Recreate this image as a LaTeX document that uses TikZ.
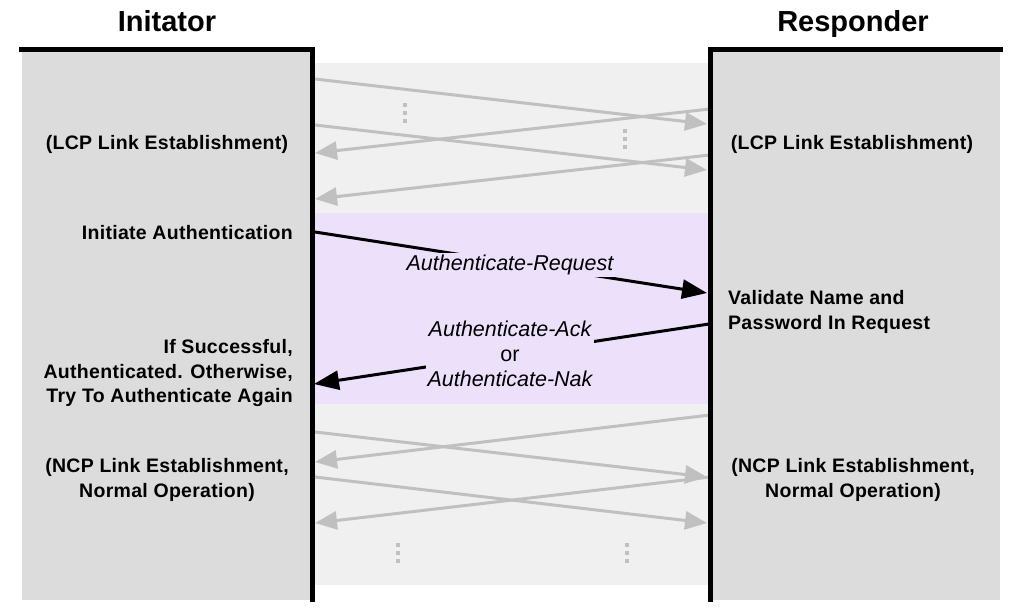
\documentclass[tikz,border=0pt]{standalone}
\usepackage{fontspec}
\setmainfont{Liberation Sans}
\newfontfamily\notefont[LetterSpace=1.5]{Liberation Sans}
\usetikzlibrary{arrows.meta}
\definecolor{boxgray}{RGB}{220,220,220}
\definecolor{midgray}{RGB}{240,240,240}
\definecolor{authpurple}{RGB}{236,224,251}
\definecolor{msggray}{RGB}{192,192,192}

\begin{document}
\begin{tikzpicture}[x = 1pt, y = -1pt,
    title/.style = {font = \fontsize{29}{34}\selectfont\bfseries, inner sep = 0pt},
    note/.style = {font = \notefont\fontsize{19.5}{24.5}\selectfont\bfseries, inner sep = 0pt},
    msg/.style = {font = \fontsize{21.5}{25}\selectfont\itshape,
        fill = authpurple, inner sep = 2pt, align = center},
    grey msg/.style = {draw = msggray, line width = 3pt,
        -{Triangle[length = 22pt, width = 18pt]}},
    auth msg/.style = {draw = black, line width = 3pt,
        -{Triangle[length = 25pt, width = 19pt]}},
    lifeline/.style = {line width = 5pt},
    dots/.style = {draw = msggray, line width = 4pt, dash pattern = on 4pt off 4pt}
    ]
    \fill[white] (0,0) rectangle (1020,613);
    \useasboundingbox (0,0) rectangle (1020,613);
    \fill[boxgray] (22,49) rectangle (312,600);
    \fill[boxgray] (710,49) rectangle (1000,600);
    \fill[midgray] (312,63) rectangle (710,585);
    \fill[authpurple] (312,213) rectangle (710,404);

    \coordinate (i1) at (315,79);   \coordinate (r1) at (707,124);
    \coordinate (r2) at (710,109);  \coordinate (i2) at (315,153);
    \coordinate (i3) at (315,125);  \coordinate (r3) at (707,170);
    \coordinate (r4) at (710,155);  \coordinate (i4) at (315,199);
    \coordinate (r5) at (710,415);  \coordinate (i5) at (315,462);
    \coordinate (i6) at (315,432);  \coordinate (r6) at (707,477);
    \coordinate (i7) at (315,477);  \coordinate (r7) at (707,523);
    \coordinate (r8) at (710,477);  \coordinate (i8) at (315,523);
    \coordinate (ia) at (315,232);  \coordinate (ra) at (707,293);
    \coordinate (rb) at (709,324);  \coordinate (ib) at (314,384);

    \foreach \from/\to in {i1/r1, r2/i2, i3/r3, r4/i4, r5/i5, i6/r6, i7/r7, r8/i8}
        \draw[grey msg] (\from) -- (\to);
    \foreach \x/\y in {405/103, 625/129, 398/543, 627/543}
        \draw[dots] (\x,\y) -- ++(0,20);

    \draw[auth msg] (ia) -- (ra);
    \draw[auth msg] (rb) -- (ib);
    \node[msg] (request) at (510,265) {Authenticate-Request};
    \node[msg] (reply) at (510,354) {Authenticate-Ack\\\textup{or}\\Authenticate-Nak};

    \draw[lifeline] (19,49) -- (312,49) -- (312,602);
    \draw[lifeline] (1003,49) -- (710,49) -- (710,602);

    \node[title, anchor = base] (initiator) at (167,31) {Initator};
    \node[title, anchor = base] (responder) at (853,31) {Responder};

    \node[note] (lcpi) at (167,144) {(LCP Link Establishment)};
    \node[note] (lcpr) at (852,144) {(LCP Link Establishment)};
    \node[note, anchor = east] (start) at (293,233) {Initiate Authentication};
    \node[note, anchor = east, align = right] (done) at (293,373)
        {If Successful,\\Authenticated. Otherwise,\\Try To Authenticate Again};
    \node[note, anchor = west, align = left] (check) at (728,312)
        {Validate Name and\\Password In Request};
    \node[note, align = center] (ncpi) at (167,480)
        {(NCP Link Establishment,\\Normal Operation)};
    \node[note, align = center] (ncpr) at (853,480)
        {(NCP Link Establishment,\\Normal Operation)};
\end{tikzpicture}
\end{document}
